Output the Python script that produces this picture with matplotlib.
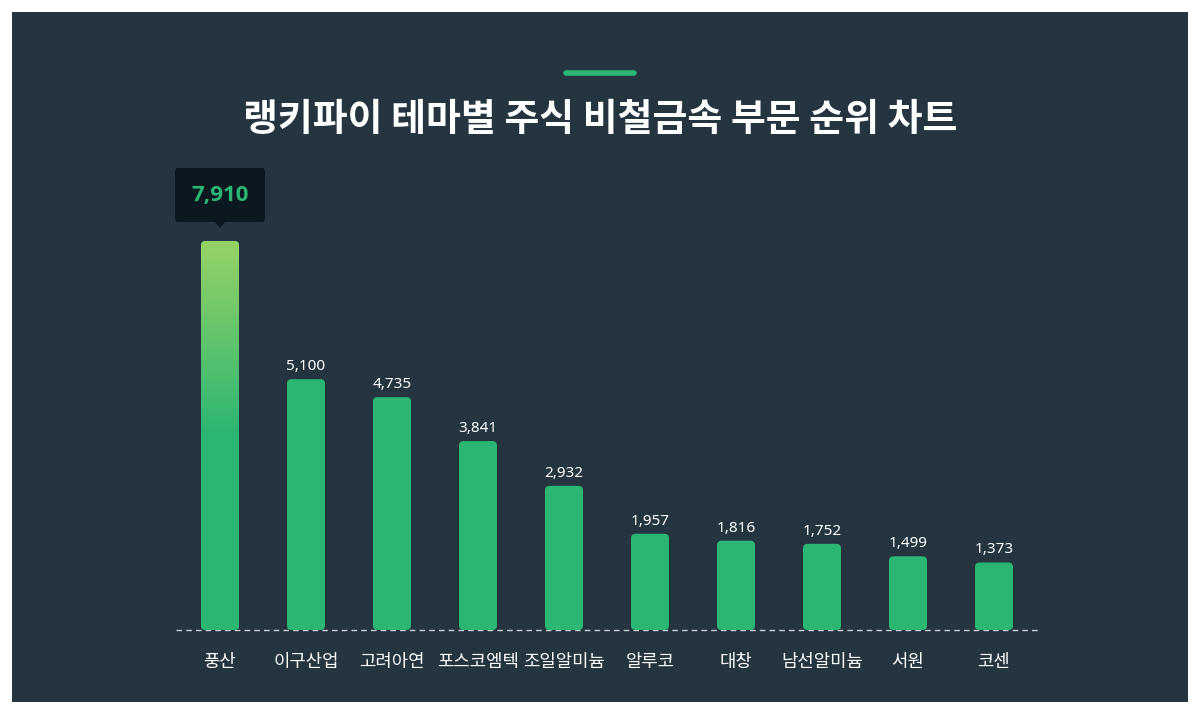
import matplotlib
matplotlib.use("Agg")
import matplotlib.pyplot as plt
import numpy as np
from matplotlib.patches import FancyBboxPatch, Rectangle, Polygon
from matplotlib.colors import LinearSegmentedColormap

plt.rcParams['font.family'] = ['Noto Sans CJK KR', 'DejaVu Sans']

title = "랭키파이 테마별 주식 비철금속 부문 순위 차트"
categories = ["풍산", "이구산업", "고려아연", "포스코엠텍", "조일알미늄",
              "알루코", "대창", "남선알미늄", "서원", "코센"]
values = [7910, 5100, 4735, 3841, 2932, 1957, 1816, 1752, 1499, 1373]

BG = "#253540"
GREEN = "#2bb673"
LIGHT = "#97d265"

W, H = 1200, 720
fig = plt.figure(figsize=(12, 7.2), dpi=100, facecolor="white")

# panel
fig.patches.append(Rectangle((12 / W, 18 / H), 1176 / W, 690 / H,
                             transform=fig.transFigure, facecolor=BG,
                             edgecolor="none", zorder=-5))

# accent line
fig.add_artist(plt.Line2D([566 / W, 634 / W], [1 - 73 / H, 1 - 73 / H],
                          transform=fig.transFigure, color=GREEN, lw=4,
                          solid_capstyle="round"))
fig.text(0.5, 1 - 120 / H, title, ha="center", va="center", color="white",
         fontsize=27.3, fontweight="bold")

# bar axes: x from px 176 to 1038, baseline px 630, top px 150
px_per_unit = (630 - 241) / 7910.0
ymax = (630 - 150) / px_per_unit
ax = fig.add_axes([176 / W, 1 - 630 / H, (1038 - 176) / W, (630 - 150) / H])
ax.set_facecolor("none")
ax.set_zorder(1)
n = len(values)
ax.set_xlim(-44 / 86, n - 1 + 44 / 86)
ax.set_ylim(0, ymax)
ax.axis("off")

bw = 38 / 86
r_x = 4.5 / 86
r_y = 4.5 / px_per_unit
aspect = r_y / r_x
x = np.arange(n)
for i, v in enumerate(values):
    p = FancyBboxPatch((x[i] - bw / 2, 0), bw, v,
                       boxstyle=f"round,pad=0,rounding_size={r_x}",
                       mutation_aspect=aspect, facecolor=GREEN,
                       edgecolor="none", zorder=2)
    ax.add_patch(p)
    if i == 0:
        cmap = LinearSegmentedColormap.from_list("g", [GREEN, GREEN, LIGHT])
        grad = np.linspace(0, 1, 256).reshape(-1, 1)
        im = ax.imshow(grad, extent=(x[i] - bw / 2, x[i] + bw / 2, 0, v),
                       origin="lower", aspect="auto", cmap=cmap, zorder=3)
        im.set_clip_path(p)
    else:
        ax.text(x[i], v + 5 / px_per_unit, f"{v:,}", ha="center", va="bottom",
                color="white", fontsize=11,
                family=["Noto Sans", "DejaVu Sans"])

ax.set_xlim(-44 / 86, n - 1 + 44 / 86)
ax.set_ylim(0, ymax)

# baseline dashed
ax.axhline(0, color="#c8cdd2", lw=1, ls=(0, (4, 3)), zorder=1, clip_on=False)

# tooltip above first bar
v0 = values[0]
tip_y = v0 + 13 / px_per_unit
box_bot = v0 + 19 / px_per_unit
box_h = 54 / px_per_unit
box_w = 90 / 86
tip = FancyBboxPatch((x[0] - box_w / 2, box_bot), box_w, box_h,
                     boxstyle=f"round,pad=0,rounding_size={3 / 86}",
                     mutation_aspect=(3 / px_per_unit) / (3 / 86),
                     facecolor="#0c1820", edgecolor="none", zorder=4,
                     clip_on=False)
ax.add_patch(tip)
ax.add_patch(Polygon([[x[0] - 5 / 86, box_bot], [x[0] + 5 / 86, box_bot],
                      [x[0], tip_y]], closed=True, facecolor="#0c1820",
                     edgecolor="none", zorder=4, clip_on=False))
ax.text(x[0], box_bot + box_h / 2, f"{v0:,}", ha="center", va="center",
        color=GREEN, fontsize=16, fontweight="bold", zorder=5,
        clip_on=False, family=["Open Sans", "DejaVu Sans"])

# category labels
for i, c in enumerate(categories):
    ax.text(x[i], -32 / px_per_unit, c, ha="center", va="center",
            color="white", fontsize=12.8, clip_on=False)

fig.savefig("out.png", dpi=100, facecolor="white")
